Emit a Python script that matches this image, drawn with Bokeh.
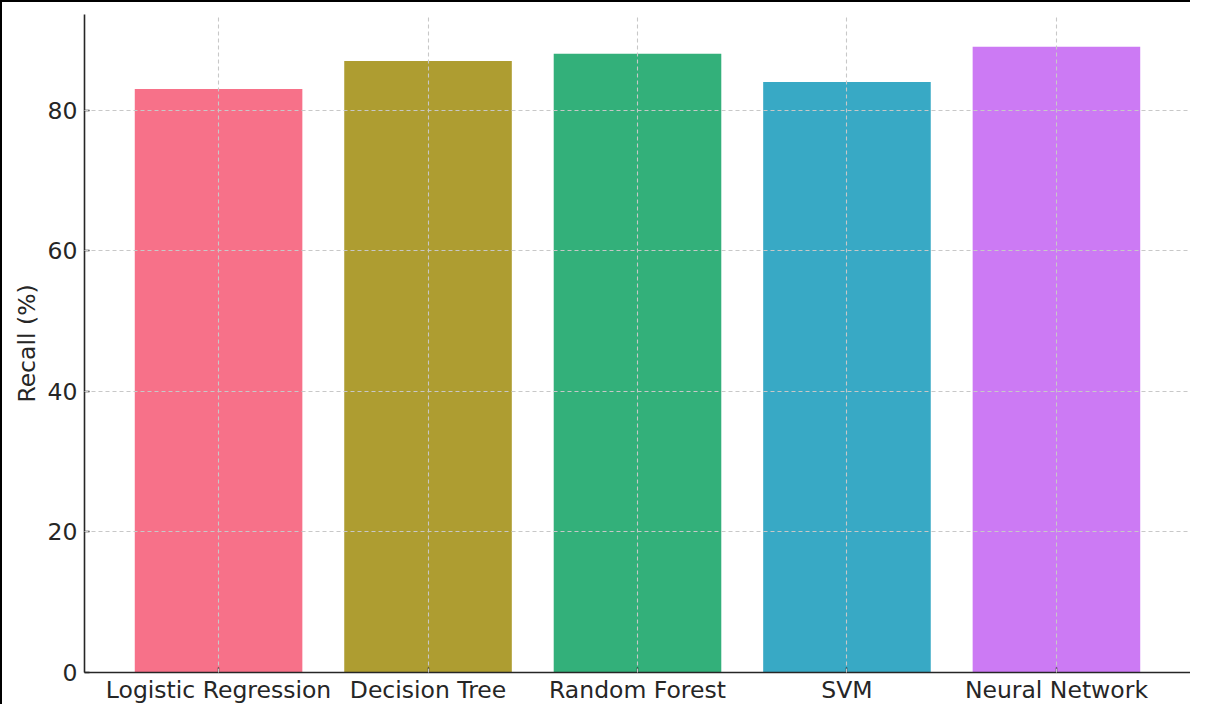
from bokeh.plotting import figure
from bokeh.models import FactorRange, Range1d, ColumnDataSource, FixedTicker
from bokeh.embed import file_html
from bokeh.resources import INLINE

models = ["Logistic Regression", "Decision Tree", "Random Forest", "SVM", "Neural Network"]
recall = [83, 87, 88, 84, 89]
colors = ["#f77189", "#ae9d31", "#33b07a", "#38a9c5", "#cc7af4"]
y_ticks = [0, 20, 40, 60, 80]

FONT = "DejaVu Sans"
TXT = "#262626"

src = ColumnDataSource(dict(model=models, recall=recall, color=colors))

p = figure(
    x_range=FactorRange(factors=models, range_padding=0.14, range_padding_units="absolute"),
    y_range=Range1d(0, 93.6),
    width=1190, height=704,
    output_backend="svg", toolbar_location=None,
    min_border_left=82, min_border_right=2, min_border_top=12, min_border_bottom=31,
    styles={"border-top": "2px solid black", "border-left": "2px solid black"},
)
p.outline_line_color = None
p.background_fill_color = "white"
p.border_fill_color = "white"

p.vbar(x="model", top="recall", width=0.8, source=src, fill_color="color", line_color=None)

for ax in (p.xaxis[0], p.yaxis[0]):
    ax.axis_line_color = TXT
    ax.axis_line_width = 1.6
    ax.major_tick_line_color = TXT
    ax.major_tick_line_width = 1.4
    ax.major_tick_in = 5
    ax.major_tick_out = 0
    ax.minor_tick_line_color = None
    ax.major_label_text_font = FONT
    ax.major_label_text_font_size = "23.5px"
    ax.major_label_text_color = TXT
    ax.major_label_standoff = 7

p.xaxis[0].major_label_standoff = 3
p.yaxis[0].ticker = FixedTicker(ticks=y_ticks)
p.yaxis[0].axis_label = "Recall (%)"
p.yaxis[0].axis_label_text_font = FONT
p.yaxis[0].axis_label_text_font_size = "23.5px"
p.yaxis[0].axis_label_text_font_style = "normal"
p.yaxis[0].axis_label_text_color = TXT
p.yaxis[0].axis_label_standoff = 4

for g in (p.xgrid[0], p.ygrid[0]):
    g.grid_line_color = "#c8c8c8"
    g.grid_line_width = 1.1
    g.grid_line_dash = "4 3"
    g.level = "overlay"

open("out.html", "w").write(file_html(p, INLINE))
